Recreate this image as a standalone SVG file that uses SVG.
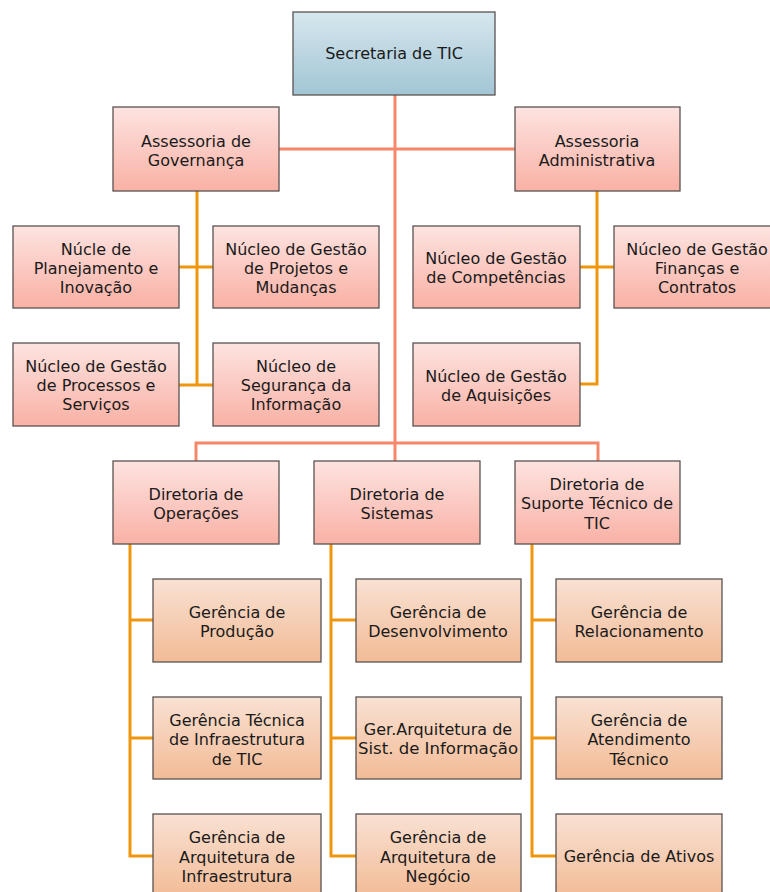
<svg xmlns="http://www.w3.org/2000/svg" width="770" height="892" viewBox="0 0 770 892">
<defs>
<linearGradient id="gBlue" x1="0" y1="0" x2="0" y2="1"><stop offset="0" stop-color="#d6e7ee"/><stop offset="1" stop-color="#a2c5d5"/></linearGradient>
<linearGradient id="gPink" x1="0" y1="0" x2="0" y2="1"><stop offset="0" stop-color="#fde3e0"/><stop offset="1" stop-color="#f9b1a5"/></linearGradient>
<linearGradient id="gPeach" x1="0" y1="0" x2="0" y2="1"><stop offset="0" stop-color="#f9e1d3"/><stop offset="1" stop-color="#f2bb96"/></linearGradient>
</defs>
<style>
rect{stroke:#5a5352;stroke-width:1.3}
.blue{fill:url(#gBlue)}
.pink{fill:url(#gPink)}
.peach{fill:url(#gPeach)}
text{font-family:"DejaVu Sans","Liberation Sans",sans-serif;font-size:16px;fill:#1a1a1a;text-anchor:middle}
.c1{stroke:#f5876a;stroke-width:3;fill:none}
.c2{stroke:#f0950e;stroke-width:3;fill:none}
</style>
<g id="connectors">
<path class="c1" d="M395 95V443M279 149H515M196 461V443H598V461M395 443V461"/>
<path class="c2" d="M197 191V385M179 267H213M179 385H213"/>
<path class="c2" d="M597 191V384H580M580 267H614"/>
<path class="c2" d="M130 544V856H153M130 620H153M130 738H153"/>
<path class="c2" d="M331 544V856H356M331 620H356M331 738H356"/>
<path class="c2" d="M532 544V856H556M532 620H556M532 738H556"/>
</g>
<g id="secretaria"><rect class="blue" x="293" y="12" width="202" height="83"/><text x="394" y="59">Secretaria de TIC</text></g>
<g id="ass-gov"><rect class="pink" x="113" y="107" width="166" height="84"/><text x="196" y="147">Assessoria de</text><text x="196" y="166">Governança</text></g>
<g id="ass-adm"><rect class="pink" x="515" y="107" width="165" height="84"/><text x="597" y="147">Assessoria</text><text x="597" y="166">Administrativa</text></g>
<g id="nuc-plan"><rect class="pink" x="13" y="226" width="166" height="82"/><text x="96" y="255">Núcle de</text><text x="96" y="274">Planejamento e</text><text x="96" y="293">Inovação</text></g>
<g id="nuc-proj"><rect class="pink" x="213" y="226" width="166" height="82"/><text x="296" y="255">Núcleo de Gestão</text><text x="296" y="274">de Projetos e</text><text x="296" y="293">Mudanças</text></g>
<g id="nuc-proc"><rect class="pink" x="13" y="343" width="166" height="83"/><text x="96" y="372">Núcleo de Gestão</text><text x="96" y="391">de Processos e</text><text x="96" y="410">Serviços</text></g>
<g id="nuc-seg"><rect class="pink" x="213" y="343" width="166" height="83"/><text x="296" y="372">Núcleo de</text><text x="296" y="391">Segurança da</text><text x="296" y="410">Informação</text></g>
<g id="nuc-comp"><rect class="pink" x="413" y="226" width="167" height="82"/><text x="496" y="264">Núcleo de Gestão</text><text x="496" y="283">de Competências</text></g>
<g id="nuc-fin"><rect class="pink" x="614" y="226" width="166" height="82"/><text x="697" y="255">Núcleo de Gestão</text><text x="697" y="274">Finanças e</text><text x="697" y="293">Contratos</text></g>
<g id="nuc-aq"><rect class="pink" x="413" y="343" width="167" height="83"/><text x="496" y="382">Núcleo de Gestão</text><text x="496" y="401">de Aquisições</text></g>
<g id="dir-op"><rect class="pink" x="113" y="461" width="166" height="83"/><text x="196" y="500">Diretoria de</text><text x="196" y="519">Operações</text></g>
<g id="dir-sis"><rect class="pink" x="314" y="461" width="166" height="83"/><text x="397" y="500">Diretoria de</text><text x="397" y="519">Sistemas</text></g>
<g id="dir-sup"><rect class="pink" x="515" y="461" width="165" height="83"/><text x="597" y="490">Diretoria de</text><text x="597" y="509">Suporte Técnico de</text><text x="597" y="529">TIC</text></g>
<g id="ger-prod"><rect class="peach" x="153" y="579" width="168" height="83"/><text x="237" y="618">Gerência de</text><text x="237" y="637">Produção</text></g>
<g id="ger-tec"><rect class="peach" x="153" y="697" width="168" height="82"/><text x="237" y="726">Gerência Técnica</text><text x="237" y="745">de Infraestrutura</text><text x="237" y="765">de TIC</text></g>
<g id="ger-arqinf"><rect class="peach" x="153" y="814" width="168" height="84"/><text x="237" y="843">Gerência de</text><text x="237" y="863">Arquitetura de</text><text x="237" y="882">Infraestrutura</text></g>
<g id="ger-dev"><rect class="peach" x="356" y="579" width="165" height="83"/><text x="438" y="618">Gerência de</text><text x="438" y="637">Desenvolvimento</text></g>
<g id="ger-arqsis"><rect class="peach" x="356" y="697" width="165" height="82"/><text x="438" y="735">Ger.Arquitetura de</text><text x="438" y="754" textLength="160" lengthAdjust="spacingAndGlyphs">Sist. de Informação</text></g>
<g id="ger-arqneg"><rect class="peach" x="356" y="814" width="165" height="84"/><text x="438" y="843">Gerência de</text><text x="438" y="863">Arquitetura de</text><text x="438" y="882">Negócio</text></g>
<g id="ger-rel"><rect class="peach" x="556" y="579" width="166" height="83"/><text x="639" y="618">Gerência de</text><text x="639" y="637">Relacionamento</text></g>
<g id="ger-atend"><rect class="peach" x="556" y="697" width="166" height="82"/><text x="639" y="726">Gerência de</text><text x="639" y="745">Atendimento</text><text x="639" y="765">Técnico</text></g>
<g id="ger-ativos"><rect class="peach" x="556" y="814" width="166" height="84"/><text x="639" y="862">Gerência de Ativos</text></g>
</svg>
